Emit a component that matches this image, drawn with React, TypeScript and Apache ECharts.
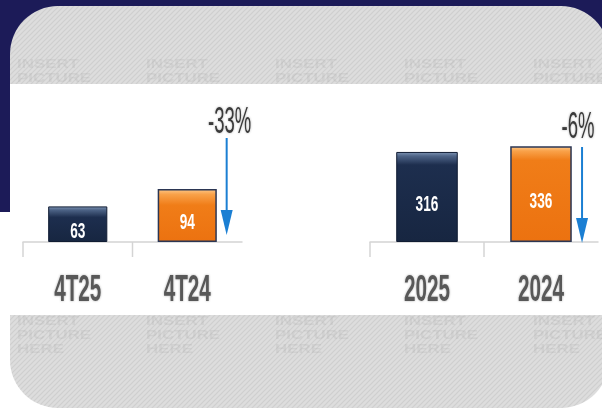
import React, { useEffect, useRef } from "react";
import * as echarts from "echarts";

// ---- data ----
const quarterCategories = ["4T25", "4T24"];
const quarterValues = [63, 94];
const yearCategories = ["2025", "2024"];
const yearValues = [316, 336];
const changeLabels = ["-33%", "-6%"];
const watermarkWords = ["INSERT", "PICTURE", "HERE"];

const FONT = "'Liberation Sans', Arial, sans-serif";

const stripeSvg =
  '<svg xmlns="http://www.w3.org/2000/svg" width="5" height="5">' +
  '<rect width="5" height="5" fill="#dddddd"/>' +
  '<path d="M0 5L5 0M-1 1L1 -1M4 6L6 4" stroke="#cfcfcf" stroke-width="1.2"/></svg>';
const stripeUrl = "data:image/svg+xml;charset=utf-8," + encodeURIComponent(stripeSvg);

function navyFill(bevel: number) {
  return new echarts.graphic.LinearGradient(0, 0, 0, 1, [
    { offset: 0, color: "#7a90b0" },
    { offset: bevel * 0.3, color: "#4d6386" },
    { offset: bevel, color: "#1d2e4e" },
    { offset: 1, color: "#172641" },
  ]);
}
function orangeFill(bevel: number) {
  return new echarts.graphic.LinearGradient(0, 0, 0, 1, [
    { offset: 0, color: "#fdc584" },
    { offset: bevel * 0.3, color: "#f9a24a" },
    { offset: bevel, color: "#f07d18" },
    { offset: 1, color: "#ec7210" },
  ]);
}

function barData(values: number[], bevel: number) {
  return values.map((v, i) => ({
    value: v,
    itemStyle:
      i === 0
        ? { color: navyFill(bevel), borderColor: "#101c33", borderWidth: 1 }
        : { color: orangeFill(bevel), borderColor: "#2b3654", borderWidth: 1.5 },
  }));
}

export default function App() {
  const ref = useRef<HTMLDivElement>(null);
  useEffect(() => {
    if (!ref.current) return;
    const chart = echarts.init(ref.current, null, { renderer: "svg" });

    const watermarkCols = [17, 146, 275, 404, 533];
    const watermarkRows = [57, 314];
    const bg: any[] = [
      { id: "navy", type: "rect", z: -20, shape: { x: 0, y: 0, width: 602, height: 212 }, style: { fill: "#1c1b58" }, silent: true },
      {
        id: "panel",
        type: "rect",
        z: -19,
        shape: { x: 10, y: 6, width: 599, height: 402, r: 48 },
        style: { fill: { image: stripeUrl, repeat: "repeat", imageWidth: 5, imageHeight: 5 } as any },
        silent: true,
      },
    ];
    watermarkRows.forEach((y, ri) =>
      watermarkCols.forEach((x, ci) =>
        watermarkWords.forEach((w, wi) =>
          bg.push({
            id: `wm${ri}_${ci}_${wi}`,
            type: "text",
            z: -18,
            x,
            y: y + wi * 14,
            scaleX: 1.3,
            silent: true,
            style: {
              text: w,
              x: 0,
              y: 0,
              fill: "rgba(150,150,150,0.16)",
              font: `bold 13px ${FONT}`,
              verticalAlign: "top",
            },
          })
        )
      )
    );
    bg.push({ id: "band", type: "rect", z: -17, shape: { x: 10, y: 84, width: 592, height: 231 }, style: { fill: "#ffffff" }, silent: true });

    const axisCommon = {
      type: "category" as const,
      axisLine: { lineStyle: { color: "#d4d4d4", width: 1.5 } },
      axisTick: { show: false },
      axisLabel: { show: false },
    };

    chart.setOption({
      animation: false,
      graphic: bg,
      grid: [
        { left: 23, right: 360, top: 129, bottom: 166, containLabel: false },
        { left: 370, right: 4, top: 128, bottom: 166, containLabel: false },
      ],
      xAxis: [
        { ...axisCommon, gridIndex: 0, data: quarterCategories },
        { ...axisCommon, gridIndex: 1, data: yearCategories },
      ],
      yAxis: [
        { type: "value", gridIndex: 0, min: 0, max: 200, show: false, splitLine: { show: false } },
        { type: "value", gridIndex: 1, min: 0, max: 400, show: false, splitLine: { show: false } },
      ],
      series: [
        { type: "bar", xAxisIndex: 0, yAxisIndex: 0, barWidth: "54%", data: barData(quarterValues, 0.3), label: { show: false } },
        { type: "bar", xAxisIndex: 1, yAxisIndex: 1, barWidth: "54%", data: barData(yearValues, 0.14), label: { show: false } },
      ],
    });

    const charts = [
      { grid: 0, cats: quarterCategories, vals: quarterValues, top: 138, tip: 235, textY: 120.5, textDx: 3 },
      { grid: 1, cats: yearCategories, vals: yearValues, top: 147, tip: 243, textY: 125.5, textDx: -4 },
    ];
    const blue = "#1b7fd3";
    const shadow = { textShadowColor: "rgba(0,0,0,0.3)", textShadowBlur: 2 };
    const extra: any[] = [];
    charts.forEach((c, gi) => {
      const p0 = chart.convertToPixel({ gridIndex: c.grid }, [c.cats[0], 0]) as number[];
      const p1 = chart.convertToPixel({ gridIndex: c.grid }, [c.cats[1], 0]) as number[];
      const band = p1[0] - p0[0];
      const axisY = p0[1];
      // ticks at category boundaries (no end tick)
      [p0[0] - band / 2, p0[0] + band / 2].forEach((tx, ti) =>
        extra.push({
          id: `tk${gi}_${ti}`,
          type: "line",
          z: 5,
          shape: { x1: tx, y1: axisY, x2: tx, y2: axisY + 15 },
          style: { stroke: "#d4d4d4", lineWidth: 1.5 },
        })
      );
      c.cats.forEach((cat, i) => {
        const px = chart.convertToPixel({ gridIndex: c.grid }, [cat, c.vals[i] / 2]) as number[];
        // category label
        extra.push({
          id: `cl${gi}_${i}`,
          type: "text",
          z: 10,
          x: px[0],
          y: axisY + 46,
          scaleX: 0.56,
          style: {
            text: cat,
            x: 0,
            y: 0,
            fill: "#595959",
            font: `bold 37px ${FONT}`,
            align: "center",
            verticalAlign: "middle",
            ...shadow,
          },
        });
        // value label inside bar
        extra.push({
          id: `vl${gi}_${i}`,
          type: "text",
          z: 10,
          x: px[0],
          y: px[1] + 6,
          scaleX: 0.62,
          style: {
            text: String(c.vals[i]),
            x: 0,
            y: 0,
            fill: "#ffffff",
            font: `bold 22px ${FONT}`,
            align: "center",
            verticalAlign: "middle",
          },
        });
      });
      // change arrow next to second bar
      const x = p1[0] + band * 0.36;
      extra.push(
        {
          id: `al${gi}`,
          type: "line",
          z: 10,
          shape: { x1: x, y1: c.top, x2: x, y2: c.tip - 20 },
          style: { stroke: blue, lineWidth: 2 },
        },
        {
          id: `ah${gi}`,
          type: "polygon",
          z: 10,
          shape: { points: [[x - 6, c.tip - 25], [x + 6, c.tip - 25], [x, c.tip]] },
          style: { fill: blue },
        },
        {
          id: `at${gi}`,
          type: "text",
          z: 10,
          x: x + c.textDx,
          y: c.textY,
          scaleX: 0.5,
          style: {
            text: changeLabels[gi],
            x: 0,
            y: 0,
            fill: "#3a3a3a",
            font: `normal 37px ${FONT}`,
            align: "center",
            verticalAlign: "middle",
            ...shadow,
          },
        }
      );
    });
    chart.setOption({ graphic: extra });

    return () => chart.dispose();
  }, []);
  return <div ref={ref} style={{ position: "fixed", left: 0, top: 0, width: 602, height: 408 }} />;
}
